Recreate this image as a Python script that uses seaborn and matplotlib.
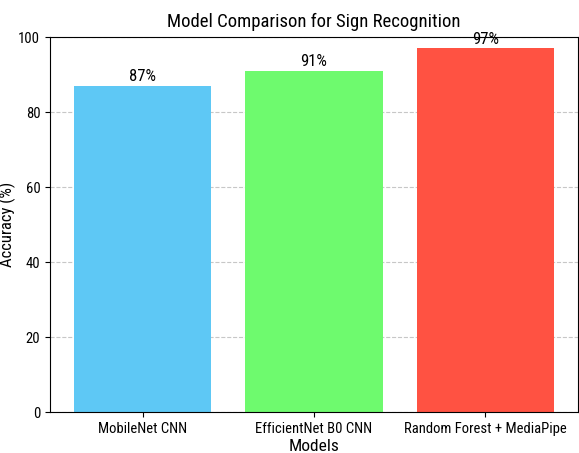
import seaborn as sns
import matplotlib.pyplot as plt
from matplotlib import font_manager

models = ['MobileNet CNN', 'EfficientNet B0 CNN', 'Random Forest + MediaPipe']
accuracy = [87, 91, 97]
bar_colors = ['#5EC8F5', '#6EFA6E', '#FF5242']

# narrow face, the reference text looks horizontally squeezed
names = {f.name for f in font_manager.fontManager.ttflist}
wanted = ['DejaVu Sans Condensed', 'Liberation Sans Narrow', 'Roboto Condensed',
          'Sofia Sans Semi Condensed']
plt.rcParams['font.family'] = [n for n in wanted if n in names][:1] + ['DejaVu Sans']

fig = plt.figure(figsize=(5.79, 4.53), dpi=100)
ax = fig.add_axes([0.0864, 0.0905, 0.912, 0.8275])

sns.barplot(x=models, y=accuracy, hue=models, palette=bar_colors, legend=False,
            width=0.8, saturation=1, ax=ax, zorder=2)

for i, v in enumerate(accuracy):
    ax.text(i, v + 0.5, f'{v}%', ha='center', va='bottom', fontsize=12)

ax.set_xlim(-0.54, 2.54)
ax.set_ylim(0, 100)
ax.set_title('Model Comparison for Sign Recognition', fontsize=13.5, pad=7)
ax.set_xlabel('Models', fontsize=12.5, labelpad=2)
ax.set_ylabel('Accuracy (%)', fontsize=12, labelpad=2)
ax.tick_params(labelsize=10.5)
ax.yaxis.grid(True, linestyle='--', alpha=0.7, zorder=0)
ax.set_axisbelow(True)

fig.savefig('out.png', dpi=100)
